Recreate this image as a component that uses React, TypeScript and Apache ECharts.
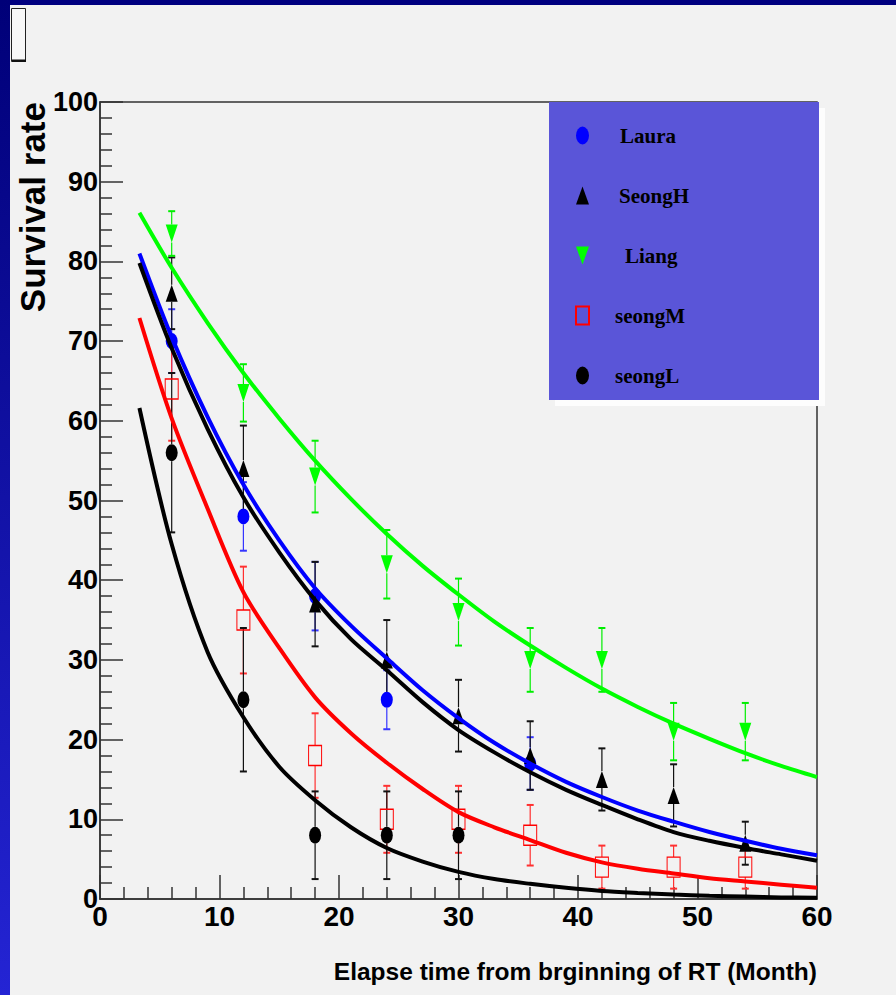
import React, { useEffect, useRef } from "react";
import * as echarts from "echarts";

// ---- measured points (month, survival %, error) ----
const months = [6, 12, 18, 24, 30, 36, 42, 48, 54];

const lauraX = [6, 12, 18, 24, 36];
const lauraY = [70, 48, 38, 25, 17];
const lauraErr = [4, 4.3, 4.3, 3.7, 3.3];

const seongHX = months;
const seongHY = [76, 54, 37, 30, 23, 18, 15, 13, 7];
const seongHErr = [4.5, 5.4, 5.3, 5, 4.5, 4.3, 3.9, 3.9, 2.7];

const liangX = months;
const liangY = [83.5, 63.5, 53, 42, 36, 30, 30, 21, 21];
const liangErr = [2.8, 3.6, 4.5, 4.3, 4.2, 4, 4, 3.6, 3.6];

const seongMX = months;
const seongMY = [64, 35, 18, 10, 10, 8, 4, 4, 4];
const seongMErr = [6.5, 6.7, 5.3, 4.2, 4.2, 3.8, 2.7, 2.7, 2.7];

const seongLX = [6, 12, 18, 24, 30];
const seongLY = [56, 25, 8, 8, 8];
const seongLErr = [10, 9, 5.5, 5.5, 5.5];

// ---- fitted curves ----
const fitX = [3.3, 6, 9, 12, 15, 18, 21, 24, 27, 30, 33, 36, 39, 42, 45, 48, 51, 54, 57, 60];
const fitLiang = [86.1, 79.2, 72.3, 66.0, 60.3, 55.0, 50.2, 45.8, 41.8, 38.2, 34.8, 31.8, 29.0, 26.4, 24.1, 22.0, 20.1, 18.3, 16.7, 15.3];
const fitLaura = [81, 70.5, 60.5, 52, 45, 39, 34.3, 30.2, 26.2, 22.7, 19.6, 17, 14.7, 12.8, 11.1, 9.7, 8.4, 7.3, 6.3, 5.5];
const fitSeongH = [79.8, 69.1, 59, 50.4, 43.5, 37.5, 32.6, 28.7, 24.7, 21.2, 18.4, 15.9, 13.7, 11.8, 10, 8.4, 7.3, 6.4, 5.6, 4.8];
const fitSeongM = [72.9, 60.3, 49, 38.5, 31.5, 25.3, 20.8, 17.1, 13.8, 10.9, 9, 7.4, 5.8, 4.6, 3.8, 3.2, 2.6, 2.2, 1.8, 1.4];
const fitSeongL = [61.6, 44.5, 31, 22.8, 16.6, 12.4, 9, 6.4, 4.7, 3.4, 2.5, 1.9, 1.4, 1.0, 0.75, 0.55, 0.4, 0.3, 0.2, 0.15];

const xTicks = { min: 0, max: 60, interval: 10 };
const yTicks = { min: 0, max: 100, interval: 10 };

const xTitle = "Elapse time from brginning of RT (Month)";
const yTitle = "Survival rate";

const SANS = "'Liberation Sans', Arial, sans-serif";
const SERIF = "'Liberation Serif', 'Times New Roman', serif";

const ELLIPSE = "path://M0,-1A1,1 0 1,1 0,1A1,1 0 1,1 0,-1Z";
const DOWN_TRI = "path://M0,0L2,0L1,2Z";

function errSeries(name: string, xs: number[], ys: number[], es: number[], color: string, half: number) {
  return {
    type: "custom",
    name,
    z: 2,
    silent: true,
    clip: false,
    data: xs.map((x, i) => [x, ys[i], es[i]]),
    encode: { x: 0, y: 1 },
    renderItem: (params: any, api: any) => {
      const x = api.value(0);
      const y = api.value(1);
      const e = api.value(2);
      const c = api.coord([x, y]);
      const t = api.coord([x, y + e]);
      const b = api.coord([x, y - e]);
      const cap = 3.5;
      const thin = { stroke: color, lineWidth: 1.2 };
      const thick = { stroke: color, lineWidth: 2 };
      const children: any[] = [];
      if (t[1] < c[1] - half)
        children.push({ type: "line", shape: { x1: c[0], y1: t[1], x2: c[0], y2: c[1] - half }, style: thin });
      if (b[1] > c[1] + half)
        children.push({ type: "line", shape: { x1: c[0], y1: c[1] + half, x2: c[0], y2: b[1] }, style: thin });
      children.push({ type: "line", shape: { x1: c[0] - cap, y1: t[1], x2: c[0] + cap, y2: t[1] }, style: thick });
      children.push({ type: "line", shape: { x1: c[0] - cap, y1: b[1], x2: c[0] + cap, y2: b[1] }, style: thick });
      return { type: "group", children };
    },
  };
}

function fitSeries(name: string, ys: number[], color: string) {
  return {
    type: "line",
    name,
    z: 3,
    silent: true,
    showSymbol: false,
    smooth: 0.3,
    data: fitX.map((x, i) => [x, ys[i]]),
    lineStyle: { color, width: 4 },
    itemStyle: { color },
  };
}

function pointSeries(name: string, xs: number[], ys: number[], symbol: string, size: number[], itemStyle: any) {
  return {
    type: "scatter",
    name,
    z: 2,
    symbol,
    symbolSize: size,
    symbolKeepAspect: false,
    data: xs.map((x, i) => [x, ys[i]]),
    itemStyle: { opacity: 1, ...itemStyle },
  };
}

export default function App() {
  const ref = useRef<HTMLDivElement>(null);

  useEffect(() => {
    if (!ref.current) return;
    const chart = echarts.init(ref.current, null, { renderer: "svg" });
    const option: any = {
      animation: false,
      backgroundColor: "#f2f2f2",
      grid: {
        left: 100,
        top: 102,
        width: 717,
        height: 797,
        containLabel: false,
        outerBoundsMode: "none",
        show: true,
        borderColor: "#333",
        borderWidth: 1.5,
        backgroundColor: "transparent",
      },
      xAxis: {
        type: "value",
        min: xTicks.min,
        max: xTicks.max,
        interval: xTicks.interval,
        splitLine: { show: false },
        axisLine: { show: true, lineStyle: { color: "#333", width: 1.5 } },
        axisTick: { show: true, inside: true, length: 24, lineStyle: { color: "#333", width: 1.5 } },
        minorTick: { show: true, splitNumber: 5, length: 12, lineStyle: { color: "#333", width: 1.5 } },
        axisLabel: { margin: 3, fontFamily: SANS, fontWeight: "bold", fontSize: 28, color: "#000" },
        name: xTitle,
        nameLocation: "end",
        nameGap: 0,
        nameTextStyle: {
          align: "right",
          verticalAlign: "top",
          padding: [60, 0, 0, 0],
          fontFamily: SANS,
          fontWeight: "bold",
          fontSize: 24.5,
          color: "#000",
        },
      },
      yAxis: {
        type: "value",
        min: yTicks.min,
        max: yTicks.max,
        interval: yTicks.interval,
        splitLine: { show: false },
        axisLine: { show: true, lineStyle: { color: "#333", width: 1.5 } },
        axisTick: { show: true, inside: true, length: 23, lineStyle: { color: "#333", width: 1.5 } },
        minorTick: { show: true, splitNumber: 5, length: 12, lineStyle: { color: "#333", width: 1.5 } },
        axisLabel: { margin: 2, padding: [8, 0, 0, 0], fontFamily: SANS, fontWeight: "bold", fontSize: 27, color: "#000" },
        name: yTitle,
        nameLocation: "end",
        nameGap: 0,
        nameRotate: 90,
        nameTextStyle: {
          align: "right",
          verticalAlign: "bottom",
          padding: [0, 0, 50, 0],
          fontFamily: SANS,
          fontWeight: "bold",
          fontSize: 35,
          color: "#000",
        },
      },
      legend: {
        orient: "vertical",
        left: 575,
        top: 125,
        padding: 0,
        z: 6,
        itemWidth: 13,
        itemHeight: 18,
        itemGap: 39,
        symbolKeepAspect: false,
        selectedMode: false,
        textStyle: { fontFamily: SERIF, fontWeight: "bold", fontSize: 21, color: "#000", lineHeight: 18 },
        data: [
          { name: "Laura", textStyle: { padding: [0, 0, 0, 26] } },
          { name: "SeongH", textStyle: { padding: [0, 0, 0, 25] } },
          { name: "Liang", textStyle: { padding: [0, 0, 0, 31] } },
          { name: "seongM", textStyle: { padding: [0, 0, 0, 21] } },
          { name: "seongL", textStyle: { padding: [0, 0, 0, 21] } },
        ],
      },
      graphic: [
        { type: "rect", z: 1, shape: { x: 0, y: 0, width: 896, height: 5 }, style: { fill: "#000080" } },
        {
          type: "rect",
          z: 1,
          shape: { x: 0, y: 0, width: 10, height: 995 },
          style: {
            fill: new echarts.graphic.LinearGradient(0, 0, 0, 1, [
              { offset: 0, color: "#000078" },
              { offset: 1, color: "#2424d4" },
            ]),
          },
        },
        { type: "rect", z: 1, shape: { x: 11.5, y: 8.5, width: 14, height: 53 }, style: { fill: "#f8f8f8", stroke: "#222", lineWidth: 1 } },
        { type: "rect", z: 1, shape: { x: 12, y: 59.5, width: 14, height: 2.5 }, style: { fill: "#111" } },
        { type: "rect", z: 5, shape: { x: 555, y: 108, width: 270, height: 298 }, style: { fill: "#fdfdfd" } },
        { type: "rect", z: 5, shape: { x: 549, y: 102, width: 270, height: 298 }, style: { fill: "#5a55d8" } },
      ],
      series: [
        errSeries("errLaura", lauraX, lauraY, lauraErr, "#3535ff", 8),
        errSeries("errSeongH", seongHX, seongHY, seongHErr, "#111", 8.5),
        errSeries("errLiang", liangX, liangY, liangErr, "#00ee00", 9),
        errSeries("errSeongM", seongMX, seongMY, seongMErr, "#ff3030", 10),
        errSeries("errSeongL", seongLX, seongLY, seongLErr, "#111", 8.5),
        pointSeries("Laura", lauraX, lauraY, ELLIPSE, [12, 16], { color: "#0000ff" }),
        pointSeries("SeongH", seongHX, seongHY, "triangle", [12, 17], { color: "#000" }),
        pointSeries("Liang", liangX, liangY, DOWN_TRI, [12, 18], { color: "#00ff00" }),
        pointSeries("seongM", seongMX, seongMY, "rect", [13, 20], {
          color: "rgba(0,0,0,0)",
          borderColor: "#ff0000",
          borderWidth: 1.2,
        }),
        pointSeries("seongL", seongLX, seongLY, ELLIPSE, [12, 17], { color: "#000" }),
        fitSeries("fitLiang", fitLiang, "#00ff00"),
        fitSeries("fitLaura", fitLaura, "#0000ff"),
        fitSeries("fitSeongH", fitSeongH, "#000000"),
        fitSeries("fitSeongM", fitSeongM, "#ff0000"),
        fitSeries("fitSeongL", fitSeongL, "#000000"),
      ],
    };
    chart.setOption(option);
    return () => chart.dispose();
  }, []);

  return (
    <div
      ref={ref}
      style={{ position: "fixed", left: 0, top: 0, width: 896, height: 995, background: "#f2f2f2" }}
    />
  );
}
